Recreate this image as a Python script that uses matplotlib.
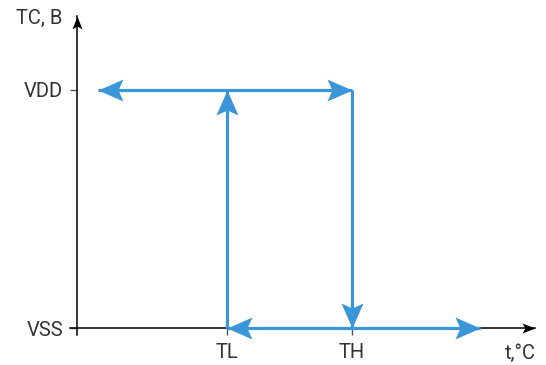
import numpy as np
import matplotlib
matplotlib.use("Agg")
import matplotlib.pyplot as plt
from matplotlib.path import Path

# niveaux et seuils du diagramme d'hystérésis
levels = [0.0, 1.0]
level_labels = ["VSS", "VDD"]
thresholds = [3.0, 5.5]
threshold_labels = ["TL", "TH"]
t_extent = [0.42, 8.06]   # bouts des flèches horizontales
axis_end = [9.16, 1.31]   # bouts des axes

BLUE = "#3b96d9"
TEXT = "#333333"
FS = 14.5

plt.rcParams['font.family'] = ['Roboto', 'DejaVu Sans']


def arrow_marker(length, half_w, notch, angle):
    """Tête de flèche pointue (encochée), pointe à l'origine, tournée de angle degrés."""
    verts = np.array([[0, 0], [-length, half_w], [-notch, 0], [-length, -half_w], [0, 0]], float)
    a = np.deg2rad(angle)
    rot = np.array([[np.cos(a), -np.sin(a)], [np.sin(a), np.cos(a)]])
    verts = verts @ rot.T
    codes = [Path.MOVETO, Path.LINETO, Path.LINETO, Path.LINETO, Path.CLOSEPOLY]
    return Path(verts, codes)


fig = plt.figure(figsize=(5.46, 3.65), dpi=100)
ax = fig.add_axes([0, 0, 1, 1])
ax.set_xlim(-1.54, 9.38)
ax.set_ylim(-0.155, 1.378)

# axes en croix avec flèches
for side in ("top", "right"):
    ax.spines[side].set_visible(False)
ax.spines['left'].set_position(('data', 0))
ax.spines['bottom'].set_position(('data', 0))
ax.spines['left'].set_bounds(-0.03, axis_end[1])
ax.spines['bottom'].set_bounds(-0.14, axis_end[0])
for s in ("left", "bottom"):
    ax.spines[s].set_linewidth(1.1)
    ax.spines[s].set_color("black")
ax.plot(axis_end[0], 0, marker=arrow_marker(13, 5, 10, 0), ms=18.7, color="black", mew=0, clip_on=False)
ax.plot(0, axis_end[1], marker=arrow_marker(13, 5, 10, 90), ms=18.7, color="black", mew=0, clip_on=False)

ax.set_yticks(levels)
ax.set_yticklabels(level_labels)
ax.set_xticks(thresholds)
ax.set_xticklabels(threshold_labels)
ax.tick_params(axis='both', direction='out', length=5, width=1, color="#555555",
               labelcolor=TEXT, labelsize=FS, pad=5)
ax.tick_params(axis='x', pad=6)

ax.text(-0.3, 1.30, "TC, B", ha='right', va='center', fontsize=FS, color=TEXT)
ax.text(axis_end[0] - 0.3, -0.105, "t,°C", ha='center', va='center', fontsize=FS, color=TEXT)

# boucle d'hystérésis
t_low, t_high = thresholds
v_low, v_high = levels
lw = 2.3
ax.plot([t_extent[0], t_high], [v_high, v_high], color=BLUE, lw=lw, solid_capstyle='butt', zorder=3)
ax.plot([t_low, t_extent[1]], [v_low, v_low], color=BLUE, lw=lw, solid_capstyle='butt', zorder=3)
ax.plot([t_low, t_low], [v_low, v_high], color=BLUE, lw=lw, solid_capstyle='butt', zorder=3)
ax.plot([t_high, t_high], [v_high, v_low], color=BLUE, lw=lw, solid_capstyle='butt', zorder=3)

heads = [
    (t_extent[0], v_high, 180),
    (t_high, v_high, 0),
    (t_low, v_high, 90),
    (t_high, v_low, -90),
    (t_low, v_low, 180),
    (t_extent[1], v_low, 0),
]
for x, y, ang in heads:
    ax.plot(x, y, marker=arrow_marker(25, 11, 20, ang), ms=36, color=BLUE, mew=0, clip_on=False, zorder=4)

fig.savefig("out.png", dpi=100)
